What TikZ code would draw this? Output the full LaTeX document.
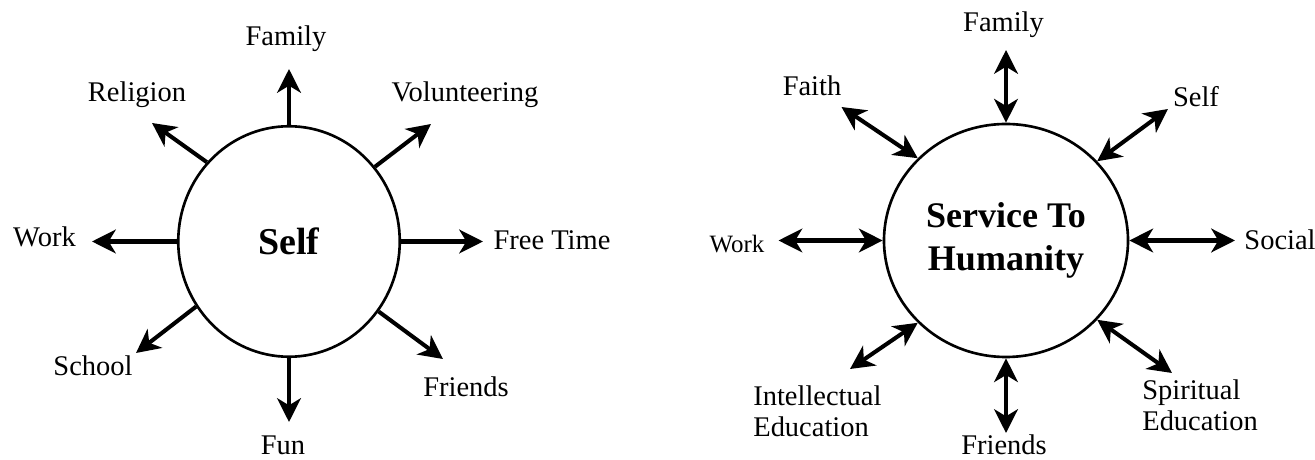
\documentclass[tikz,border=0pt]{standalone}
\usepackage{fontspec}
\setmainfont{Liberation Serif}
\usetikzlibrary{arrows.meta,shapes.geometric}

\tikzset{
  hub/.style={draw,ellipse,line width=1.5pt,inner sep=0pt,align=center},
  lbl/.style={inner sep=0pt,font=\fontsize{16.2}{17.6}\selectfont},
  oneway/.style={line width=2.3pt,-{Stealth[length=13.5pt,width=13.5pt,inset=4pt]}},
  twoway/.style={line width=2.3pt,{Stealth[length=13.5pt,width=13.5pt,inset=4pt]}-{Stealth[length=13.5pt,width=13.5pt,inset=4pt]}}
}

\begin{document}
\begin{tikzpicture}
\useasboundingbox (0,0) rectangle (26.3,9.18);
% left: self
\node[hub,minimum width=4.43cm,minimum height=4.61cm,font=\bfseries\fontsize{21.6}{24}\selectfont] (self) at (5.78,4.35) {Self};
\coordinate (famtip) at (5.78,7.80);
\coordinate (reltip) at (3.04,6.72);
\coordinate (voltip) at (8.62,6.70);
\coordinate (worktip) at (1.84,4.35);
\coordinate (freetip) at (9.66,4.35);
\coordinate (schooltip) at (2.72,2.12);
\coordinate (friendtip) at (8.86,2.00);
\coordinate (funtip) at (5.78,0.74);
\draw[oneway] (self.north) -- (famtip);
\draw[oneway] (self.136) -- (reltip);
\draw[oneway] (self.41.7) -- (voltip);
\draw[oneway] (self.west) -- (worktip);
\draw[oneway] (self.east) -- (freetip);
\draw[oneway] (self.-145.3) -- (schooltip);
\draw[oneway] (self.-38.5) -- (friendtip);
\draw[oneway] (self.south) -- (funtip);
\node[lbl,anchor=base] (family) at (5.72,8.26) {Family};
\node[lbl,anchor=base] (religion) at (2.74,7.15) {Religion};
\node[lbl,anchor=base] (volunteer) at (9.30,7.14) {Volunteering};
\node[lbl,anchor=base] (work) at (0.89,4.24) {Work};
\node[lbl,anchor=base] (freetime) at (11.04,4.18) {Free Time};
\node[lbl,anchor=base] (school) at (1.86,1.68) {School};
\node[lbl,anchor=base] (friends) at (9.32,1.24) {Friends};
\node[lbl,anchor=base] (fun) at (5.66,0.08) {Fun};

% right: service to humanity
\node[hub,minimum width=4.88cm,minimum height=4.66cm,font=\bfseries\fontsize{20.5}{24.5}\selectfont] (hum) at (20.12,4.37) {Service To\\Humanity};
\coordinate (rfamtip) at (20.12,8.18);
\coordinate (faithtip) at (16.83,7.04);
\coordinate (rselftip) at (23.36,7.00);
\coordinate (rworktip) at (15.57,4.37);
\coordinate (socialtip) at (24.70,4.37);
\coordinate (intedtip) at (17.00,1.80);
\coordinate (rfriendtip) at (20.12,0.52);
\coordinate (spiredtip) at (23.44,1.72);
\draw[twoway] (rfamtip) -- (hum.north);
\draw[twoway] (faithtip) -- (hum.137.5);
\draw[twoway] (rselftip) -- (hum.41.2);
\draw[twoway] (rworktip) -- (hum.west);
\draw[twoway] (socialtip) -- (hum.east);
\draw[twoway] (intedtip) -- (hum.-137.6);
\draw[twoway] (rfriendtip) -- (hum.south);
\draw[twoway] (spiredtip) -- (hum.-41.8);
\node[lbl,anchor=base] (rfamily) at (20.07,8.55) {Family};
\node[lbl,anchor=base] (faith) at (16.24,7.27) {Faith};
\node[lbl,anchor=base] (rself) at (23.92,7.05) {Self};
\node[lbl,anchor=base,font=\fontsize{14.2}{16}\selectfont] (rwork) at (14.74,4.12) {Work};
\node[lbl,anchor=base] (social) at (25.60,4.18) {Social};
\node[lbl,anchor=west,align=left] (inted) at (15.06,0.96) {Intellectual\\Education};
\node[lbl,anchor=base] (rfriends) at (20.08,0.08) {Friends};
\node[lbl,anchor=west,align=left] (spired) at (22.84,1.08) {Spiritual\\Education};
\end{tikzpicture}
\end{document}
